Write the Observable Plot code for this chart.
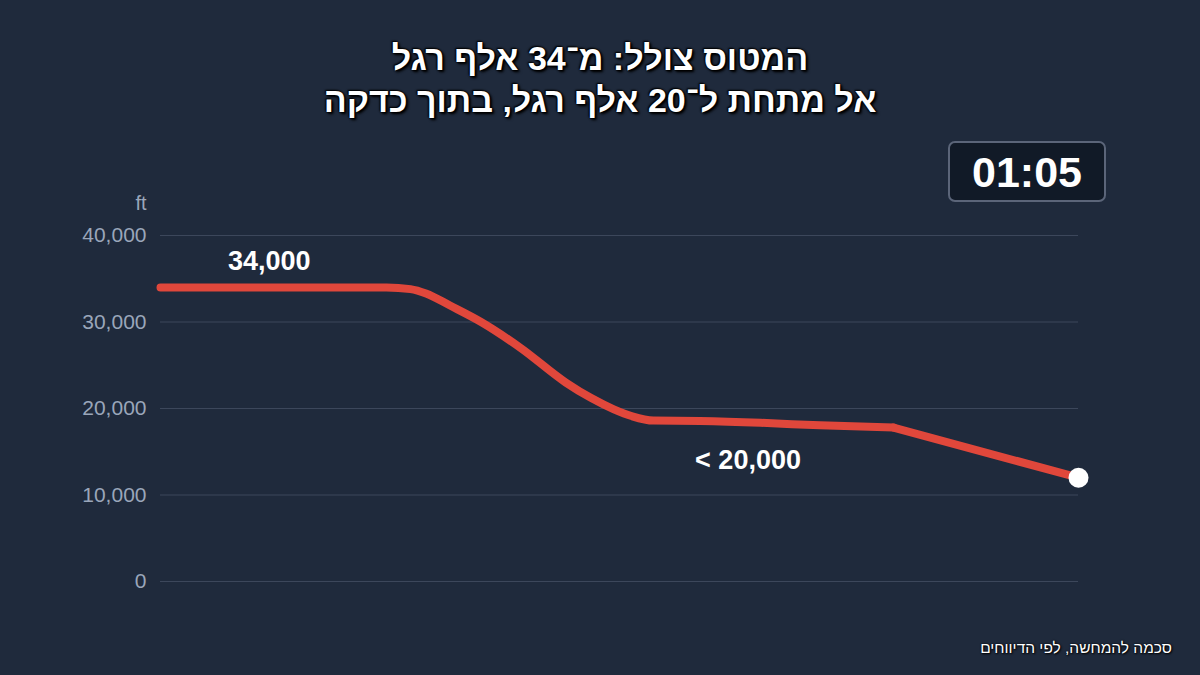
<!DOCTYPE html>
<html lang="he">
<head>
<meta charset="utf-8">
<script src="https://cdn.jsdelivr.net/npm/d3@7"></script>
<script src="https://cdn.jsdelivr.net/npm/@observablehq/plot@0.6"></script>
<style>
  html, body { margin: 0; padding: 0; background: #1f2a3c; }
  #wrap { position: relative; width: 1200px; height: 675px; overflow: hidden; background: #1f2a3c; font-family: "Liberation Sans", Arial, sans-serif; }
  #title { position: absolute; left: 0; top: 37px; width: 1200px; text-align: center; direction: rtl; color: #fff; font-weight: bold; font-size: 34px; line-height: 42px;
    text-shadow: 0 0 2px #000, 1px 1px 2px #000, -1px -1px 2px #000, 2px 2px 3px #000, 0 0 1px #000; }
  #timer { position: absolute; left: 948px; top: 141px; width: 154px; height: 57px; background: #111a27; border: 2px solid #5b6579; border-radius: 7px; color: #fff; font-weight: bold; font-size: 43px; line-height: 58px; text-align: center; }
  #caption { position: absolute; right: 28px; top: 639px; direction: rtl; color: #fff; font-size: 15.5px; text-shadow: 1px 1px 2px #000, 0 0 2px #000; }
  #chart { position: absolute; left: 0; top: 0; }
</style>
</head>
<body>
<div id="wrap">
  <div id="chart"></div>
  <div id="title">המטוס צולל: מ־34 אלף רגל<br>אל מתחת ל־20 אלף רגל, בתוך כדקה</div>
  <div id="timer">01:05</div>
  <div id="caption">סכמה להמחשה, לפי הדיווחים</div>
</div>
<script>
// time in seconds since start of the dive sequence
const seconds = [0, 8, 16, 17.7, 18.8, 20.5, 22.7, 25.5, 28.7, 30.5, 32.1, 33.4, 34.9, 38.2, 42.5, 46.7, 51.9, 65];
// altitude in feet
const altitude = [34000, 34000, 34000, 33800, 33300, 31900, 30000, 27000, 23000, 21200, 19900, 19100, 18600, 18550, 18350, 18050, 17800, 12000];
const yTicks = [0, 10000, 20000, 30000, 40000];
const labelText = ["34,000", "< 20,000"];
const labelSeconds = [7.7, 41.6];
const labelAltitude = [37000, 14000];

const series = seconds.map((t, i) => ({t, alt: altitude[i]}));
const smoothPart = series.slice(0, series.length - 1);
const finalLeg = series.slice(series.length - 2);
const labels = labelText.map((text, i) => ({text, t: labelSeconds[i], alt: labelAltitude[i]}));
const last = [series[series.length - 1]];

const chart = Plot.plot({
  width: 1200,
  height: 675,
  marginLeft: 160,
  marginRight: 122,
  marginTop: 235,
  marginBottom: 94,
  style: {background: "transparent", fontFamily: "'Liberation Sans', Arial, sans-serif"},
  x: {domain: [0, 65], axis: null},
  y: {domain: [0, 40000], ticks: yTicks},
  marks: [
    Plot.gridY(yTicks, {stroke: "#3c475b", strokeOpacity: 1, strokeWidth: 1}),
    Plot.axisY(yTicks, {
      tickSize: 0, tickPadding: 14, fontSize: 21, fill: "#9aa6ba",
      tickFormat: d => d3.format(",")(d),
      label: null
    }),
    Plot.text(["ft"], {frameAnchor: "top-left", dx: -14, dy: -40, textAnchor: "end", fontSize: 20, fill: "#9aa6ba"}),
    Plot.line(smoothPart, {x: "t", y: "alt", stroke: "#e0473b", strokeWidth: 8, curve: "monotone-x"}),
    Plot.line(finalLeg, {x: "t", y: "alt", stroke: "#e0473b", strokeWidth: 8, curve: "linear", strokeLinecap: "round"}),
    Plot.dot(last, {x: "t", y: "alt", r: 10, fill: "#ffffff", stroke: "none"}),
    Plot.text(labels, {x: "t", y: "alt", text: "text", fill: "#ffffff", fontSize: 27, fontWeight: "bold"})
  ]
});
document.getElementById("chart").appendChild(chart);
</script>
</body>
</html>
